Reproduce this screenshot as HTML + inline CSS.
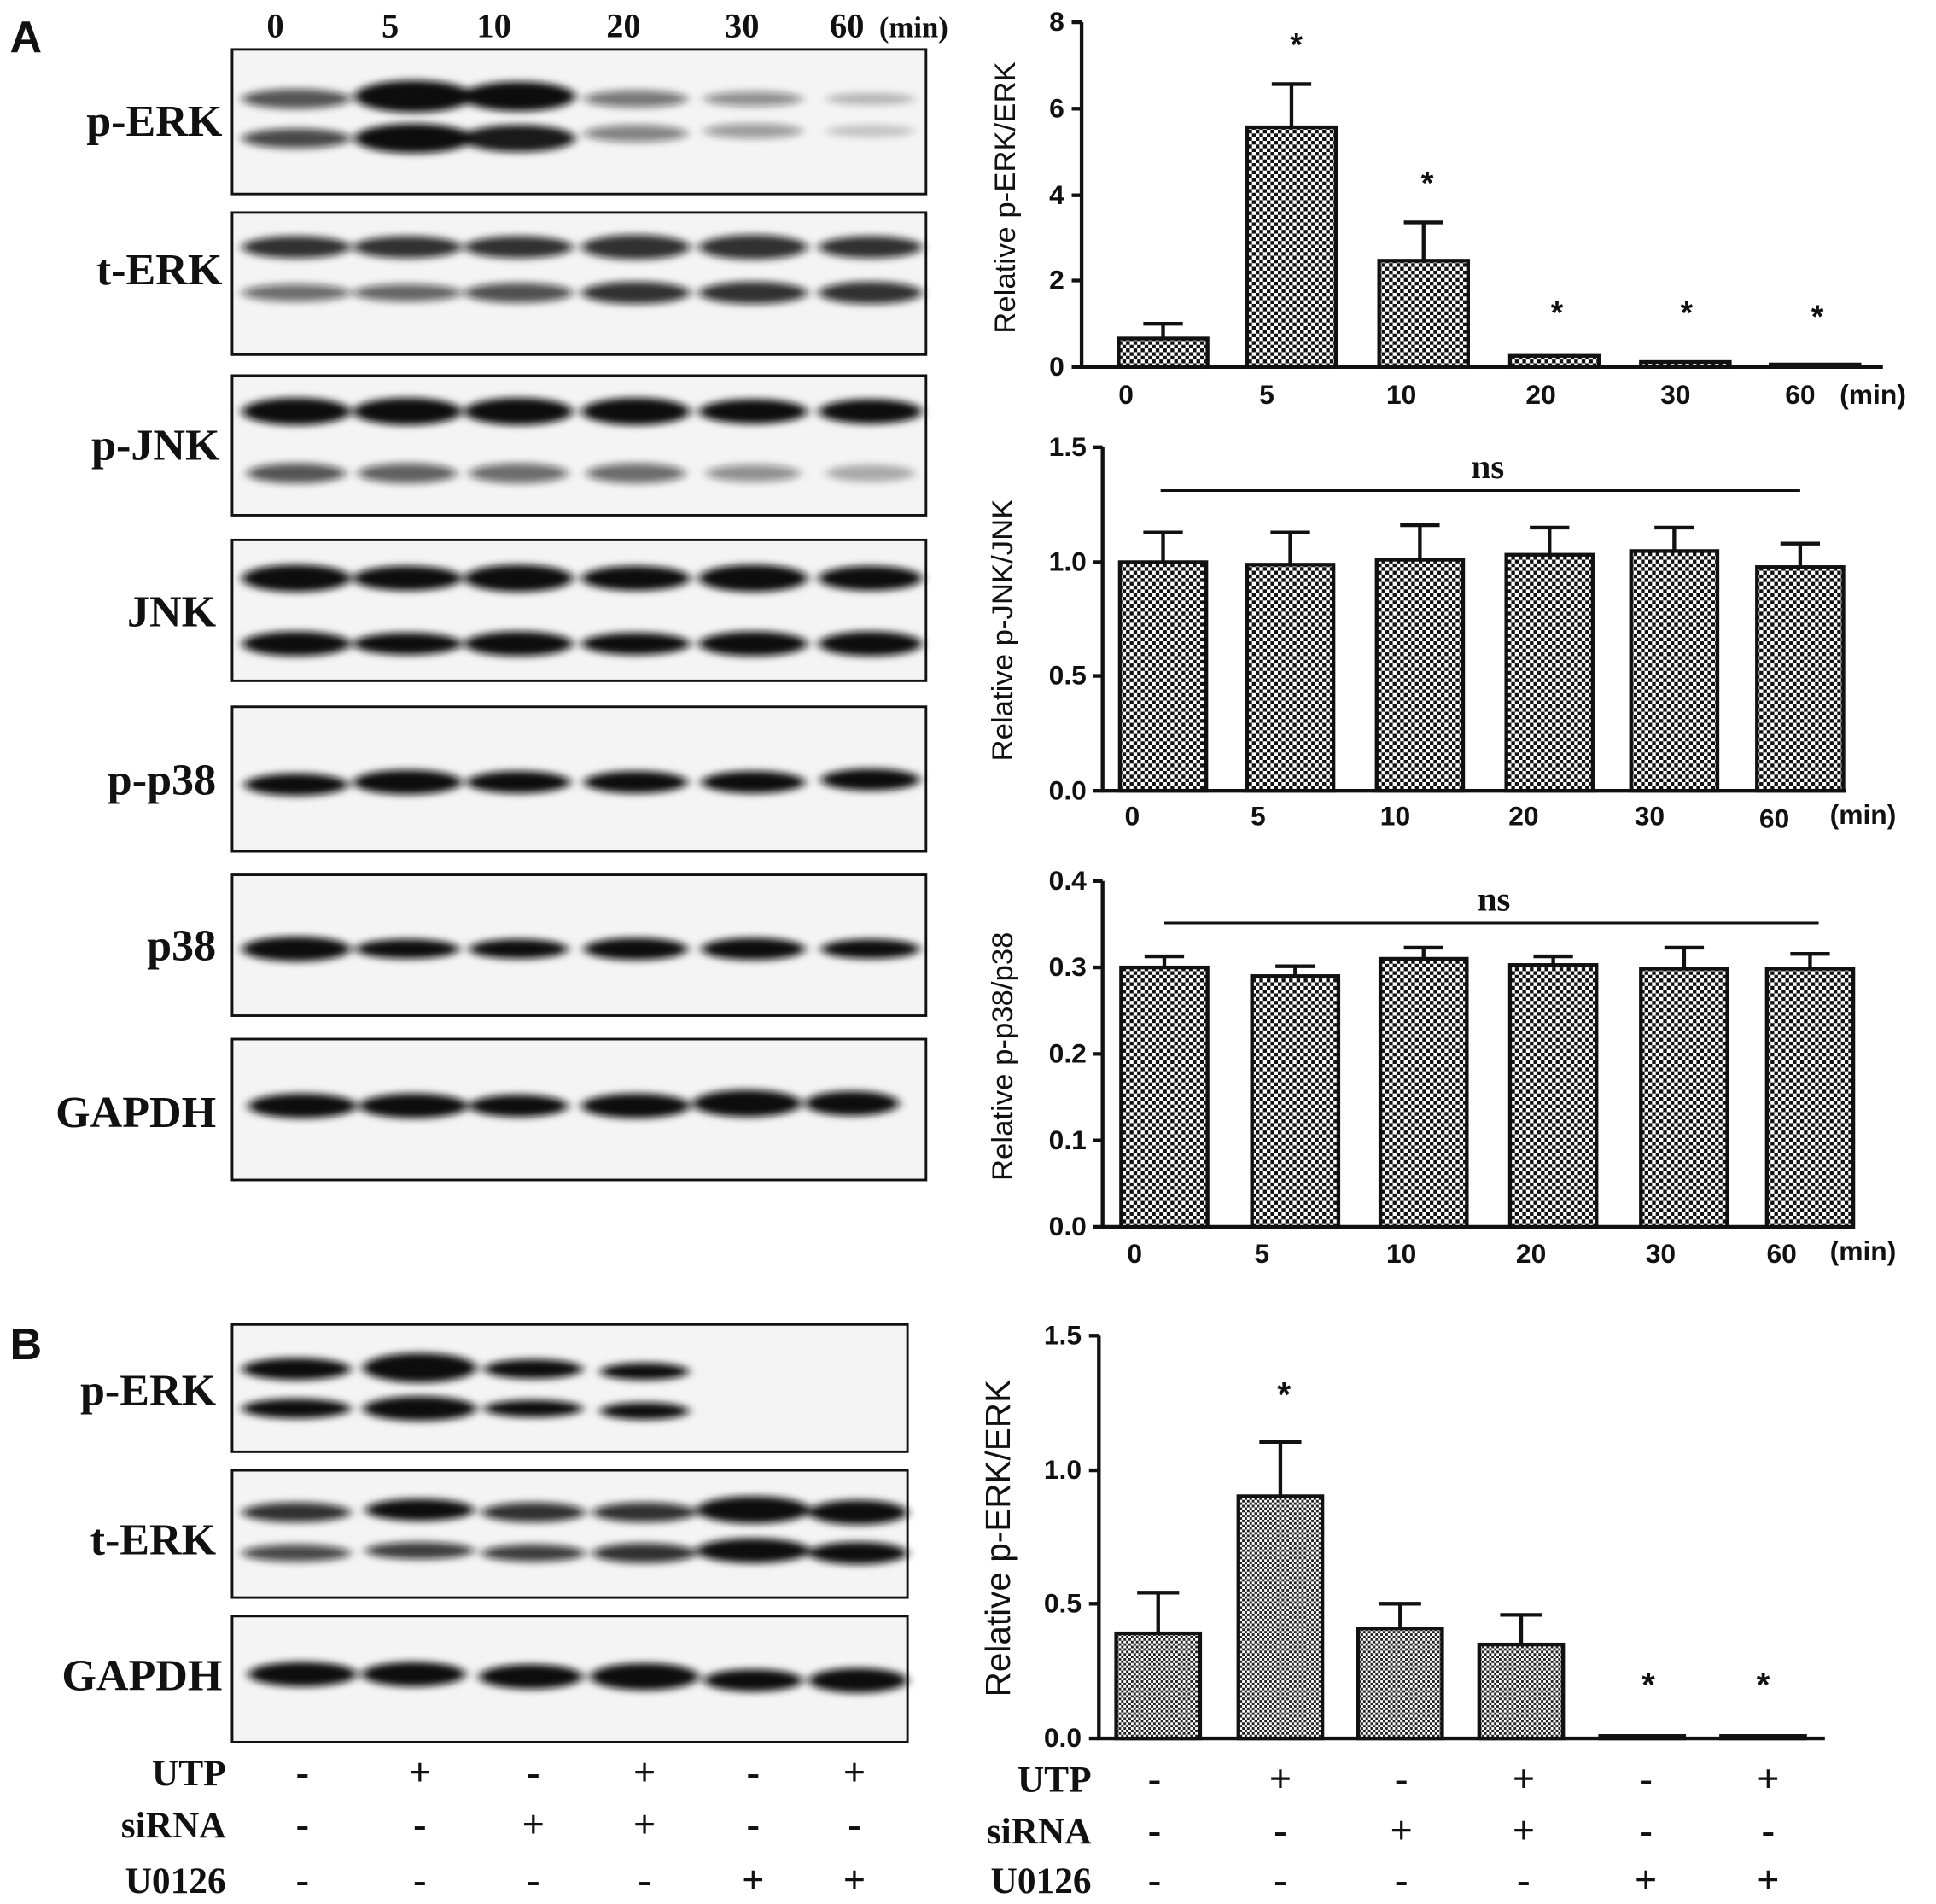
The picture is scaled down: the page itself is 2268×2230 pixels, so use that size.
<!DOCTYPE html>
<html><head><meta charset="utf-8"><style>
html,body{margin:0;padding:0;background:#fff}
svg{display:block}
.lb{font-family:"Liberation Serif",serif;font-weight:bold;font-size:36px;fill:#111}
.tk{font-family:"Liberation Sans",sans-serif;font-weight:bold;font-size:22px;fill:#111}
.yl{font-family:"Liberation Sans",sans-serif;font-size:24px;fill:#111}
.hd{font-family:"Liberation Sans",sans-serif;font-weight:bold;font-size:36px;fill:#111}
.sm{font-family:"Liberation Serif",serif;font-weight:bold;font-size:28px;fill:#111}
</style></head><body>
<svg width="2268" height="2230" viewBox="0 0 1568 1541" preserveAspectRatio="none" xmlns="http://www.w3.org/2000/svg">
<defs>
<filter id="bl" x="-30%" y="-100%" width="160%" height="300%"><feGaussianBlur stdDeviation="4 3"/></filter>
<pattern id="ck" width="6" height="6" patternUnits="userSpaceOnUse"><rect width="6" height="6" fill="#fff"/><rect width="3" height="3" fill="#111"/><rect x="3" y="3" width="3" height="3" fill="#111"/></pattern>
<pattern id="ck2" width="4" height="4" patternUnits="userSpaceOnUse"><rect width="4" height="4" fill="#fff"/><rect width="2" height="2" fill="#222"/><rect x="2" y="2" width="2" height="2" fill="#222"/></pattern>
</defs>
<rect width="1568" height="1541" fill="#fff"/>
<text x="8" y="42" class="hd">A</text>
<text x="8" y="1100" class="hd">B</text>
<g class="sm" text-anchor="middle"><text x="223" y="30">0</text><text x="316" y="30">5</text><text x="400" y="30">10</text><text x="505" y="30">20</text><text x="601" y="30">30</text><text x="686" y="30">60</text></g>
<text x="712" y="30" class="sm" style="font-size:24px">(min)</text>
<g fill="#f4f4f4" stroke="#111" stroke-width="2">
<rect x="188" y="40" width="562" height="117"/><rect x="188" y="172" width="562" height="115"/>
<rect x="188" y="304" width="562" height="113"/><rect x="188" y="437" width="562" height="114"/>
<rect x="188" y="572" width="562" height="117"/><rect x="188" y="708" width="562" height="114"/>
<rect x="188" y="841" width="562" height="114"/>
<rect x="188" y="1072" width="547" height="103"/><rect x="188" y="1190" width="547" height="103"/>
<rect x="188" y="1308" width="547" height="102"/>
</g>
<g class="lb" text-anchor="end">
<text x="180" y="110">p-ERK</text><text x="180" y="230">t-ERK</text><text x="178" y="372">p-JNK</text>
<text x="175" y="507">JNK</text><text x="175" y="643">p-p38</text><text x="175" y="777">p38</text>
<text x="175" y="912">GAPDH</text>
<text x="175" y="1137">p-ERK</text><text x="175" y="1258">t-ERK</text><text x="180" y="1368">GAPDH</text>
</g>
<g filter="url(#bl)" fill="#111">
<ellipse cx="240" cy="80" rx="44" ry="8" opacity=".7"/><ellipse cx="240" cy="112" rx="44" ry="8" opacity=".75"/>
<ellipse cx="335" cy="78" rx="48" ry="13" opacity="1"/><ellipse cx="335" cy="112" rx="48" ry="12"/>
<ellipse cx="420" cy="78" rx="46" ry="12"/><ellipse cx="420" cy="112" rx="46" ry="11" opacity=".95"/>
<ellipse cx="515" cy="80" rx="42" ry="7" opacity=".55"/><ellipse cx="515" cy="108" rx="42" ry="7" opacity=".5"/>
<ellipse cx="610" cy="80" rx="40" ry="6" opacity=".45"/><ellipse cx="610" cy="106" rx="40" ry="6" opacity=".4"/>
<ellipse cx="705" cy="80" rx="36" ry="5" opacity=".25"/><ellipse cx="705" cy="106" rx="36" ry="5" opacity=".2"/>
<g opacity=".85"><ellipse cx="240" cy="200" rx="44" ry="9"/><ellipse cx="240" cy="237" rx="44" ry="7" opacity=".7"/>
<ellipse cx="330" cy="200" rx="44" ry="9"/><ellipse cx="330" cy="237" rx="44" ry="7" opacity=".75"/>
<ellipse cx="420" cy="200" rx="44" ry="9"/><ellipse cx="420" cy="237" rx="44" ry="8" opacity=".85"/>
<ellipse cx="515" cy="200" rx="44" ry="10"/><ellipse cx="515" cy="237" rx="44" ry="9"/>
<ellipse cx="610" cy="200" rx="44" ry="10"/><ellipse cx="610" cy="237" rx="44" ry="9"/>
<ellipse cx="705" cy="200" rx="42" ry="9"/><ellipse cx="705" cy="237" rx="42" ry="9"/></g>
<g><ellipse cx="240" cy="333" rx="44" ry="11"/><ellipse cx="240" cy="383" rx="40" ry="8" opacity=".7"/>
<ellipse cx="330" cy="333" rx="44" ry="11"/><ellipse cx="330" cy="383" rx="40" ry="8" opacity=".65"/>
<ellipse cx="420" cy="333" rx="44" ry="11"/><ellipse cx="420" cy="383" rx="40" ry="8" opacity=".6"/>
<ellipse cx="515" cy="333" rx="44" ry="11"/><ellipse cx="515" cy="383" rx="40" ry="8" opacity=".6"/>
<ellipse cx="610" cy="333" rx="44" ry="10"/><ellipse cx="610" cy="383" rx="38" ry="7" opacity=".45"/>
<ellipse cx="705" cy="333" rx="42" ry="10"/><ellipse cx="705" cy="383" rx="36" ry="7" opacity=".3"/></g>
<g><ellipse cx="240" cy="468" rx="44" ry="11"/><ellipse cx="240" cy="521" rx="44" ry="10"/>
<ellipse cx="330" cy="468" rx="44" ry="10"/><ellipse cx="330" cy="521" rx="44" ry="9"/>
<ellipse cx="420" cy="468" rx="44" ry="11"/><ellipse cx="420" cy="521" rx="44" ry="10"/>
<ellipse cx="515" cy="468" rx="44" ry="10"/><ellipse cx="515" cy="521" rx="44" ry="9"/>
<ellipse cx="610" cy="468" rx="44" ry="11"/><ellipse cx="610" cy="521" rx="44" ry="10"/>
<ellipse cx="705" cy="468" rx="42" ry="10"/><ellipse cx="705" cy="521" rx="42" ry="10"/></g>
<g><ellipse cx="240" cy="635" rx="42" ry="9"/><ellipse cx="330" cy="633" rx="44" ry="10"/><ellipse cx="420" cy="633" rx="42" ry="9"/><ellipse cx="515" cy="633" rx="42" ry="9"/><ellipse cx="610" cy="633" rx="42" ry="9"/><ellipse cx="705" cy="631" rx="40" ry="9"/>
<ellipse cx="240" cy="768" rx="44" ry="10"/><ellipse cx="330" cy="768" rx="42" ry="8"/><ellipse cx="420" cy="768" rx="40" ry="8"/><ellipse cx="515" cy="768" rx="42" ry="9"/><ellipse cx="610" cy="768" rx="42" ry="9"/><ellipse cx="705" cy="768" rx="40" ry="8"/>
<ellipse cx="245" cy="895" rx="44" ry="10"/><ellipse cx="335" cy="895" rx="44" ry="10"/><ellipse cx="420" cy="895" rx="40" ry="9"/><ellipse cx="515" cy="895" rx="44" ry="10"/><ellipse cx="605" cy="893" rx="44" ry="11"/><ellipse cx="690" cy="893" rx="38" ry="10"/></g>
<g><ellipse cx="240" cy="1108" rx="44" ry="9"/><ellipse cx="240" cy="1140" rx="44" ry="8"/>
<ellipse cx="340" cy="1107" rx="46" ry="12"/><ellipse cx="340" cy="1140" rx="46" ry="10"/>
<ellipse cx="432" cy="1108" rx="40" ry="8"/><ellipse cx="432" cy="1140" rx="40" ry="7"/>
<ellipse cx="522" cy="1110" rx="36" ry="7"/><ellipse cx="522" cy="1142" rx="36" ry="7"/>
<ellipse cx="240" cy="1224" rx="44" ry="8" opacity=".85"/><ellipse cx="240" cy="1257" rx="44" ry="7" opacity=".75"/>
<ellipse cx="340" cy="1222" rx="44" ry="9"/><ellipse cx="340" cy="1255" rx="44" ry="7" opacity=".8"/>
<ellipse cx="432" cy="1224" rx="42" ry="8" opacity=".85"/><ellipse cx="432" cy="1257" rx="42" ry="7" opacity=".8"/>
<ellipse cx="522" cy="1224" rx="42" ry="8" opacity=".85"/><ellipse cx="522" cy="1257" rx="42" ry="8" opacity=".85"/>
<ellipse cx="610" cy="1222" rx="46" ry="11"/><ellipse cx="610" cy="1255" rx="46" ry="10"/>
<ellipse cx="695" cy="1224" rx="40" ry="10"/><ellipse cx="695" cy="1257" rx="40" ry="9"/>
<ellipse cx="245" cy="1355" rx="44" ry="10"/><ellipse cx="335" cy="1355" rx="42" ry="10"/><ellipse cx="430" cy="1357" rx="42" ry="10"/><ellipse cx="522" cy="1357" rx="44" ry="11"/><ellipse cx="610" cy="1360" rx="40" ry="9"/><ellipse cx="695" cy="1360" rx="40" ry="10"/></g>
</g>
<g class="lb" style="font-size:30px" text-anchor="end"><text x="183" y="1445">UTP</text><text x="183" y="1487">siRNA</text><text x="183" y="1532">U0126</text></g>
<g class="sm" style="font-size:32px" text-anchor="middle">
<text x="245" y="1445">-</text><text x="340" y="1445">+</text><text x="432" y="1445">-</text><text x="522" y="1445">+</text><text x="610" y="1445">-</text><text x="692" y="1445">+</text>
<text x="245" y="1487">-</text><text x="340" y="1487">-</text><text x="432" y="1487">+</text><text x="522" y="1487">+</text><text x="610" y="1487">-</text><text x="692" y="1487">-</text>
<text x="245" y="1532">-</text><text x="340" y="1532">-</text><text x="432" y="1532">-</text><text x="522" y="1532">-</text><text x="610" y="1532">+</text><text x="692" y="1532">+</text>
</g>
<g stroke="#111" stroke-width="3" fill="none">
<path d="M876 18V297H1525"/>
<path d="M868 18h8M868 88h8M868 158h8M868 227h8M868 297h8"/>
</g>
<g class="tk" text-anchor="end"><text x="862" y="25">8</text><text x="862" y="95">6</text><text x="862" y="165">4</text><text x="862" y="234">2</text><text x="862" y="304">0</text></g>
<text transform="translate(822,160) rotate(-90)" class="yl" text-anchor="middle">Relative p-ERK/ERK</text>
<g stroke="#111" stroke-width="3" fill="url(#ck)">
<rect x="906" y="274" width="72" height="23"/><rect x="1010" y="103" width="72" height="194"/><rect x="1117" y="211" width="72" height="86"/>
<rect x="1223" y="288" width="72" height="9"/><rect x="1329" y="293" width="72" height="4"/><rect x="1434" y="295" width="72" height="2"/>
<path d="M942 274V262M926 262h32M1046 103V68M1030 68h32M1153 211V180M1137 180h32" fill="none"/>
</g>
<g class="tk" style="font-size:26px" text-anchor="middle"><text x="1050" y="45">*</text><text x="1156" y="157">*</text><text x="1261" y="262">*</text><text x="1366" y="262">*</text><text x="1472" y="265">*</text></g>
<g class="tk" text-anchor="middle"><text x="912" y="327">0</text><text x="1026" y="327">5</text><text x="1135" y="327">10</text><text x="1248" y="327">20</text><text x="1357" y="327">30</text><text x="1458" y="327">60</text></g>
<text x="1490" y="327" class="tk">(min)</text>
<g stroke="#111" stroke-width="3" fill="none">
<path d="M893 362V640H1495"/>
<path d="M885 362h8M885 455h8M885 547h8M885 640h8"/>
<path d="M940 397H1458" stroke-width="2"/>
</g>
<g class="tk" text-anchor="end"><text x="880" y="369">1.5</text><text x="880" y="462">1.0</text><text x="880" y="554">0.5</text><text x="880" y="647">0.0</text></g>
<text transform="translate(820,510) rotate(-90)" class="yl" text-anchor="middle">Relative p-JNK/JNK</text>
<text x="1205" y="387" class="sm" text-anchor="middle">ns</text>
<g stroke="#111" stroke-width="3" fill="url(#ck)">
<rect x="907" y="455" width="70" height="185"/><rect x="1010" y="457" width="70" height="183"/><rect x="1115" y="453" width="70" height="187"/>
<rect x="1220" y="449" width="70" height="191"/><rect x="1321" y="446" width="70" height="194"/><rect x="1423" y="459" width="70" height="181"/>
<path d="M942 455V431M926 431h32M1045 457V431M1029 431h32M1150 453V425M1134 425h32M1255 449V427M1239 427h32M1356 446V427M1340 427h32M1458 459V440M1442 440h32" fill="none"/>
</g>
<g class="tk" text-anchor="middle"><text x="917" y="668">0</text><text x="1019" y="668">5</text><text x="1130" y="668">10</text><text x="1234" y="668">20</text><text x="1336" y="668">30</text><text x="1437" y="670">60</text></g>
<text x="1482" y="667" class="tk">(min)</text>
<g stroke="#111" stroke-width="3" fill="none">
<path d="M893 713V993H1500"/>
<path d="M885 713h8M885 783h8M885 853h8M885 923h8M885 993h8"/>
<path d="M943 747H1473" stroke-width="2"/>
</g>
<g class="tk" text-anchor="end"><text x="880" y="720">0.4</text><text x="880" y="790">0.3</text><text x="880" y="860">0.2</text><text x="880" y="930">0.1</text><text x="880" y="1000">0.0</text></g>
<text transform="translate(820,855) rotate(-90)" class="yl" text-anchor="middle">Relative p-p38/p38</text>
<text x="1210" y="737" class="sm" text-anchor="middle">ns</text>
<g stroke="#111" stroke-width="3" fill="url(#ck)">
<rect x="908" y="783" width="70" height="210"/><rect x="1014" y="790" width="70" height="203"/><rect x="1118" y="776" width="70" height="217"/>
<rect x="1223" y="781" width="70" height="212"/><rect x="1329" y="784" width="70" height="209"/><rect x="1431" y="784" width="70" height="209"/>
<path d="M943 783V774M927 774h32M1049 790V782M1033 782h32M1153 776V767M1137 767h32M1258 781V774M1242 774h32M1364 784V767M1348 767h32M1466 784V772M1450 772h32" fill="none"/>
</g>
<g class="tk" text-anchor="middle"><text x="919" y="1022">0</text><text x="1022" y="1022">5</text><text x="1135" y="1022">10</text><text x="1240" y="1022">20</text><text x="1345" y="1022">30</text><text x="1443" y="1022">60</text></g>
<text x="1482" y="1020" class="tk">(min)</text>
<g stroke="#111" stroke-width="3" fill="none">
<path d="M890 1081V1407H1478"/>
<path d="M882 1081h8M882 1190h8M882 1298h8M882 1407h8"/>
</g>
<g class="tk" text-anchor="end"><text x="876" y="1088">1.5</text><text x="876" y="1197">1.0</text><text x="876" y="1305">0.5</text><text x="876" y="1414">0.0</text></g>
<text transform="translate(818,1245) rotate(-90)" class="yl" style="font-size:28px" text-anchor="middle">Relative p-ERK/ERK</text>
<g stroke="#111" stroke-width="3" fill="url(#ck2)">
<rect x="904" y="1322" width="68" height="85"/><rect x="1003" y="1211" width="68" height="196"/><rect x="1100" y="1318" width="68" height="89"/>
<rect x="1198" y="1331" width="68" height="76"/><rect x="1296" y="1405" width="68" height="2"/><rect x="1394" y="1405" width="68" height="2"/>
<path d="M938 1322V1289M921 1289h34M1037 1211V1167M1020 1167h34M1134 1318V1298M1117 1298h34M1232 1331V1307M1215 1307h34" fill="none"/>
</g>
<g class="tk" style="font-size:28px" text-anchor="middle"><text x="1040" y="1138">*</text><text x="1335" y="1373">*</text><text x="1428" y="1373">*</text></g>
<g class="lb" style="font-size:30px" text-anchor="end"><text x="884" y="1450">UTP</text><text x="884" y="1492">siRNA</text><text x="884" y="1532">U0126</text></g>
<g class="sm" style="font-size:32px" text-anchor="middle">
<text x="935" y="1450">-</text><text x="1037" y="1450">+</text><text x="1135" y="1450">-</text><text x="1234" y="1450">+</text><text x="1333" y="1450">-</text><text x="1432" y="1450">+</text>
<text x="935" y="1492">-</text><text x="1037" y="1492">-</text><text x="1135" y="1492">+</text><text x="1234" y="1492">+</text><text x="1333" y="1492">-</text><text x="1432" y="1492">-</text>
<text x="935" y="1532">-</text><text x="1037" y="1532">-</text><text x="1135" y="1532">-</text><text x="1234" y="1532">-</text><text x="1333" y="1532">+</text><text x="1432" y="1532">+</text>
</g>
</svg>
</body></html>
